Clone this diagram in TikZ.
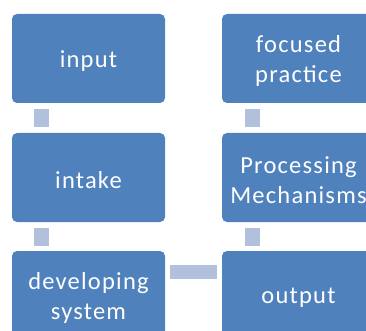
\documentclass[tikz,border=0pt]{standalone}
\usepackage{fontspec}
\usetikzlibrary{calc}
\setmainfont{Carlito}[LetterSpace=5]
\definecolor{boxblue}{HTML}{4F81BD}
\definecolor{linkblue}{HTML}{B2C1DB}
\begin{document}
\begin{tikzpicture}[x=1pt,y=-1pt,
  stage/.style={fill=boxblue, draw=none, rounded corners=5pt, minimum width=153pt, minimum height=89pt,
    inner sep=0pt},
  lbl/.style={text=white, font=\fontsize{24.5}{30}\selectfont, align=center, inner sep=0pt, yshift=-2.5pt},
  link/.style={fill=linkblue, draw=none}]
\useasboundingbox (0,0) rectangle (366,331);
\clip (0,0) rectangle (366,331);
\node[stage, label={[lbl]center:input}] (input) at (88.5,58.5) {};
\node[stage, label={[lbl]center:intake}] (intake) at (88.5,177.5) {};
\node[stage, label={[lbl]center:developing\\system}] (dev) at (88.5,295.5) {};
\node[stage, label={[lbl]center:output}] (output) at (298.5,295.5) {};
\node[stage, label={[lbl]center:Processing\\Mechanisms}] (proc) at (298.5,177.5) {};
\node[stage, label={[lbl]center:focused\\practice}] (focus) at (298.5,58.5) {};
\path[link] ($(input.south)+(-54.5,6)$) rectangle ($(intake.north)+(-39.5,-6)$);
\path[link] ($(intake.south)+(-54.5,6)$) rectangle ($(dev.north)+(-39.5,-5)$);
\path[link] ($(focus.south)+(-53.5,6)$) rectangle ($(proc.north)+(-38.5,-6)$);
\path[link] ($(proc.south)+(-53.5,6)$) rectangle ($(output.north)+(-38.5,-5)$);
\path[link] ($(dev.east)+(5,-30.5)$) rectangle ($(output.west)+(-5,-16.5)$);
\end{tikzpicture}
\end{document}
